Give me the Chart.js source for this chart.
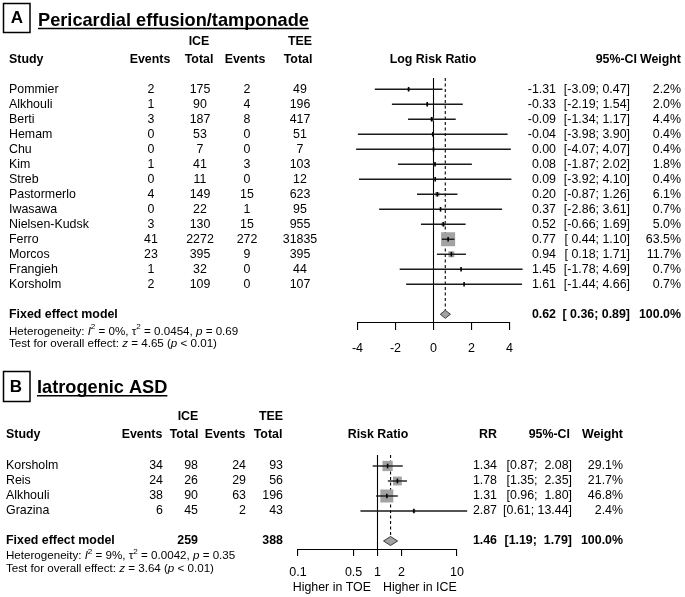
<!DOCTYPE html>
<html>
<head>
<meta charset="utf-8">
<script src="https://cdn.jsdelivr.net/npm/chart.js@4.4.0/dist/chart.umd.min.js"></script>
<style>
body { margin: 0; background: #fff; }
#wrap { position: relative; width: 685px; height: 597px; }
canvas { position: absolute; left: 0; }
</style>
</head>
<body>
<div id="wrap">
  <canvas id="chartA" width="685" height="365" style="top:0px"></canvas>
  <canvas id="chartB" width="685" height="232" style="top:365px"></canvas>
</div>
<script>
// ---- panel A: pericardial effusion / tamponade ----
var studiesA = ['Pommier', 'Alkhouli', 'Berti', 'Hemam', 'Chu', 'Kim', 'Streb', 'Pastormerlo', 'Iwasawa', 'Nielsen-Kudsk', 'Ferro', 'Morcos', 'Frangieh', 'Korsholm'];
var iceEventsA = [2, 1, 3, 0, 0, 1, 0, 4, 0, 3, 41, 23, 1, 2];
var iceTotalA = [175, 90, 187, 53, 7, 41, 11, 149, 22, 130, 2272, 395, 32, 109];
var teeEventsA = [2, 4, 8, 0, 0, 3, 0, 15, 1, 15, 272, 9, 0, 0];
var teeTotalA = [49, 196, 417, 51, 7, 103, 12, 623, 95, 955, 31835, 395, 44, 107];
var logRRA = [-1.31, -0.33, -0.09, -0.04, 0.00, 0.08, 0.09, 0.20, 0.37, 0.52, 0.77, 0.94, 1.45, 1.61];
var lowerA = [-3.09, -2.19, -1.34, -3.98, -4.07, -1.87, -3.92, -0.87, -2.86, -0.66, 0.44, 0.18, -1.78, -1.44];
var upperA = [0.47, 1.54, 1.17, 3.90, 4.07, 2.02, 4.10, 1.26, 3.61, 1.69, 1.10, 1.71, 4.69, 4.66];
var weightA = [2.2, 2.0, 4.4, 0.4, 0.4, 1.8, 0.4, 6.1, 0.7, 5.0, 63.5, 11.7, 0.7, 0.7];
var fixedA = [0.62, 0.36, 0.89];          // estimate, lower, upper
var hetA = ['0%', '0.0454', '0.69'];      // I2, tau2, p
var testA = ['4.65', '< 0.01'];           // z, p
var ticksA = [-4, -2, 0, 2, 4];

// ---- panel B: iatrogenic ASD ----
var studiesB = ['Korsholm', 'Reis', 'Alkhouli', 'Grazina'];
var iceEventsB = [34, 24, 38, 6];
var iceTotalB = [98, 26, 90, 45];
var teeEventsB = [24, 29, 63, 2];
var teeTotalB = [93, 56, 196, 43];
var rrB = [1.34, 1.78, 1.31, 2.87];
var lowerB = [0.87, 1.35, 0.96, 0.61];
var upperB = [2.08, 2.35, 1.80, 13.44];
var weightB = [29.1, 21.7, 46.8, 2.4];
var fixedB = [1.46, 1.19, 1.79];
var totalsB = [259, 388];
var hetB = ['9%', '0.0042', '0.35'];
var testB = ['3.64', '< 0.01'];
var ticksB = [0.1, 0.5, 1, 2, 10];
var tickLabelsB = ['0.1', '0.5', '1', '2', '10'];

var FONT = '"Liberation Sans", Arial, sans-serif';
var BASE = 12.4;

function font(size, bold, italic) {
    return (italic ? 'italic ' : '') + (bold ? 'bold ' : '') + size + 'px ' + FONT;
}

function txt(ctx, s, x, y, align, bold, size) {
    ctx.font = font(size || BASE, bold);
    ctx.textAlign = align || 'left';
    ctx.textBaseline = 'middle';
    ctx.fillStyle = '#000';
    ctx.fillText(s, x, y);
}

function richTxt(ctx, runs, x, y, size) {
    ctx.textAlign = 'left';
    ctx.textBaseline = 'middle';
    ctx.fillStyle = '#000';
    runs.forEach(r => {
        let sz = r.sup ? size * 0.7 : size;
        ctx.font = font(sz, false, r.it);
        ctx.fillText(r.t, x, r.sup ? y - size * 0.38 : y);
        x += ctx.measureText(r.t).width;
    });
}

function title(ctx, s, x, y) {
    ctx.font = font(18.2, true);
    ctx.textAlign = 'left';
    ctx.textBaseline = 'alphabetic';
    ctx.fillStyle = '#000';
    ctx.fillText(s, x, y);
    let w = ctx.measureText(s).width;
    ctx.beginPath();
    ctx.lineWidth = 1.4;
    ctx.strokeStyle = '#000';
    ctx.moveTo(x, y + 2.5);
    ctx.lineTo(x + w, y + 2.5);
    ctx.stroke();
}

function hetRuns(h) {
    return [{t: 'Heterogeneity: '}, {t: 'I', it: true}, {t: '2', sup: true}, {t: ' = ' + h[0] + ', \u03c4'},
            {t: '2', sup: true}, {t: ' = ' + h[1] + ', '}, {t: 'p', it: true}, {t: ' = ' + h[2]}];
}

function testRuns(t) {
    return [{t: 'Test for overall effect: '}, {t: 'z', it: true}, {t: ' = ' + t[0] + ' ('}, {t: 'p', it: true}, {t: ' ' + t[1] + ')'}];
}

// build the forest marks: squares, CI lines, estimate ticks, null line, dashed pooled line, diamond
function forestDatasets(est, lo, hi, w, maxSide, fixed, fixedRow, yMin, yMax, nullVal, halfH) {
    let ds = [];
    let maxW = Math.max.apply(null, w);
    ds.push({
        data: est.map((v, i) => ({x: v, y: i})),
        pointStyle: 'rect',
        pointRadius: w.map(v => maxSide * Math.sqrt(v / maxW) / Math.SQRT2),
        backgroundColor: '#a2a2a2',
        borderWidth: 0,
        clip: false,
        order: 3
    });
    for (let i = 0; i < est.length; i++) {
        ds.push({
            data: [{x: lo[i], y: i}, {x: hi[i], y: i}],
            showLine: true,
            borderColor: '#1a1a1a',
            borderWidth: 1.4,
            pointRadius: 0,
            clip: false,
            order: 1
        });
    }
    ds.push({
        data: est.map((v, i) => ({x: v, y: i})),
        pointStyle: 'line',
        rotation: 90,
        pointRadius: 2.3,
        borderColor: '#000',
        pointBorderWidth: 1.6,
        clip: false,
        order: 0
    });
    ds.push({
        data: [{x: nullVal, y: yMin}, {x: nullVal, y: yMax}],
        showLine: true, borderColor: '#000', borderWidth: 1.1, pointRadius: 0, order: 4
    });
    ds.push({
        data: [{x: fixed[0], y: yMin}, {x: fixed[0], y: fixedRow - halfH}],
        showLine: true, borderColor: '#000', borderWidth: 1.1, borderDash: [3, 2.5], pointRadius: 0, order: 4
    });
    ds.push({
        data: [{x: fixed[1], y: fixedRow}, {x: fixed[0], y: fixedRow - halfH}, {x: fixed[2], y: fixedRow},
               {x: fixed[0], y: fixedRow + halfH}, {x: fixed[1], y: fixedRow}],
        showLine: true, fill: 'shape', backgroundColor: '#a2a2a2', borderColor: '#3a3a3a',
        borderWidth: 1, pointRadius: 0, tension: 0, order: 2
    });
    return ds;
}

function fmtCI(v) { return (v >= 0 ? ' ' : '') + v.toFixed(2); }
function padCI(v, n) { let s = v.toFixed(2); while (s.length < n) s = ' ' + s; return s; }

var tableA = {
    id: 'tableA',
    afterDraw(chart) {
        const ctx = chart.ctx, ys = chart.scales.y;
        const Y = r => ys.getPixelForValue(r);
        ctx.save();
        ctx.lineWidth = 1.5;
        ctx.strokeStyle = '#000';
        ctx.strokeRect(3.5, 3.5, 26.5, 29);
        txt(ctx, 'A', 17, 18.5, 'center', true, 17);
        title(ctx, 'Pericardial effusion/tamponade', 38, 26);

        txt(ctx, 'ICE', 199, Y(-3.2), 'center', true);
        txt(ctx, 'TEE', 300, Y(-3.2), 'center', true);
        txt(ctx, 'Study', 9, Y(-2), 'left', true);
        txt(ctx, 'Events', 150, Y(-2), 'center', true);
        txt(ctx, 'Total', 199, Y(-2), 'center', true);
        txt(ctx, 'Events', 245, Y(-2), 'center', true);
        txt(ctx, 'Total', 298, Y(-2), 'center', true);
        txt(ctx, 'Log Risk Ratio', 433, Y(-2), 'center', true);
        txt(ctx, '95%-CI', 637, Y(-2), 'right', true);
        txt(ctx, 'Weight', 681, Y(-2), 'right', true);

        for (let i = 0; i < studiesA.length; i++) {
            let y = Y(i);
            txt(ctx, studiesA[i], 9, y, 'left');
            txt(ctx, String(iceEventsA[i]), 151, y, 'center');
            txt(ctx, String(iceTotalA[i]), 200, y, 'center');
            txt(ctx, String(teeEventsA[i]), 247, y, 'center');
            txt(ctx, String(teeTotalA[i]), 300, y, 'center');
            txt(ctx, logRRA[i].toFixed(2), 556, y, 'right');
            txt(ctx, '[' + fmtCI(lowerA[i]) + '; ' + upperA[i].toFixed(2) + ']', 630, y, 'right');
            txt(ctx, weightA[i].toFixed(1) + '%', 681, y, 'right');
        }
        let yf = Y(15);
        txt(ctx, 'Fixed effect model', 9, yf, 'left', true);
        txt(ctx, fixedA[0].toFixed(2), 556, yf, 'right', true);
        txt(ctx, '[' + fmtCI(fixedA[1]) + '; ' + fixedA[2].toFixed(2) + ']', 630, yf, 'right', true);
        txt(ctx, '100.0%', 681, yf, 'right', true);
        richTxt(ctx, hetRuns(hetA), 9, Y(16.15), 11.6);
        richTxt(ctx, testRuns(testA), 9, Y(16.95), 11.6);
        ctx.restore();
    }
};

var tableB = {
    id: 'tableB',
    afterDraw(chart) {
        const ctx = chart.ctx, ys = chart.scales.y;
        const Y = r => ys.getPixelForValue(r);
        ctx.save();
        ctx.lineWidth = 1.5;
        ctx.strokeStyle = '#000';
        ctx.strokeRect(3.5, 6.5, 26.5, 30);
        txt(ctx, 'B', 16, 22.5, 'center', true, 17);
        title(ctx, 'Iatrogenic ASD', 37, 28.3);

        txt(ctx, 'ICE', 188, Y(-3.3), 'center', true);
        txt(ctx, 'TEE', 271, Y(-3.3), 'center', true);
        txt(ctx, 'Study', 6, Y(-2.07), 'left', true);
        txt(ctx, 'Events', 142, Y(-2.07), 'center', true);
        txt(ctx, 'Total', 184, Y(-2.07), 'center', true);
        txt(ctx, 'Events', 225, Y(-2.07), 'center', true);
        txt(ctx, 'Total', 268, Y(-2.07), 'center', true);
        txt(ctx, 'Risk Ratio', 378, Y(-2.07), 'center', true);
        txt(ctx, 'RR', 488, Y(-2.07), 'center', true);
        txt(ctx, '95%-CI', 570, Y(-2.07), 'right', true);
        txt(ctx, 'Weight', 623, Y(-2.07), 'right', true);

        for (let i = 0; i < studiesB.length; i++) {
            let y = Y(i);
            txt(ctx, studiesB[i], 6, y, 'left');
            txt(ctx, String(iceEventsB[i]), 163, y, 'right');
            txt(ctx, String(iceTotalB[i]), 198, y, 'right');
            txt(ctx, String(teeEventsB[i]), 246, y, 'right');
            txt(ctx, String(teeTotalB[i]), 283, y, 'right');
            txt(ctx, rrB[i].toFixed(2), 497, y, 'right');
            txt(ctx, '[' + lowerB[i].toFixed(2) + '; ' + padCI(upperB[i], 5) + ']', 572, y, 'right');
            txt(ctx, weightB[i].toFixed(1) + '%', 623, y, 'right');
        }
        let yf = Y(5);
        txt(ctx, 'Fixed effect model', 6, yf, 'left', true);
        txt(ctx, String(totalsB[0]), 198, yf, 'right', true);
        txt(ctx, String(totalsB[1]), 283, yf, 'right', true);
        txt(ctx, fixedB[0].toFixed(2), 497, yf, 'right', true);
        txt(ctx, '[' + fixedB[1].toFixed(2) + '; ' + padCI(fixedB[2], 5) + ']', 572, yf, 'right', true);
        txt(ctx, '100.0%', 623, yf, 'right', true);
        richTxt(ctx, hetRuns(hetB), 6, Y(6.0), 11.6);
        richTxt(ctx, testRuns(testB), 6, Y(6.87), 11.6);
        txt(ctx, 'Higher in TOE', 371, Y(8.1), 'right');
        txt(ctx, 'Higher in ICE', 383, Y(8.1), 'left');
        ctx.restore();
    }
};

function xAxis(extra) {
    return Object.assign({
        grid: {display: true, drawOnChartArea: false, drawTicks: true, tickLength: 7, color: '#000', lineWidth: 1.1},
        border: {display: true, color: '#000', width: 1.1},
        ticks: {color: '#000', font: {size: 12.5, family: FONT}, padding: 11, autoSkip: false, maxRotation: 0}
    }, extra);
}

// chart A
var yMinA = -0.75, yMaxA = 15.583;
new Chart(document.getElementById('chartA').getContext('2d'), {
    type: 'scatter',
    data: {datasets: forestDatasets(logRRA, lowerA, upperA, weightA, 14, fixedA, 15, yMinA, yMaxA, 0, 0.27)},
    options: {
        responsive: false,
        animation: false,
        layout: {padding: {left: 357.5, right: 175.5, top: 78, bottom: 12}},
        plugins: {legend: {display: false}, tooltip: {enabled: false}},
        scales: {
            x: xAxis({
                type: 'linear', min: -4, max: 4,
                afterBuildTicks: s => { s.ticks = ticksA.map(v => ({value: v})); },
                afterFit: s => { s.height = 30; }
            }),
            y: {type: 'linear', display: false, reverse: true, min: yMinA, max: yMaxA}
        }
    },
    plugins: [tableA]
});

// chart B
var yMinB = -0.733, yMaxB = 5.6;
var optsB = xAxis({
    type: 'logarithmic', min: 0.1, max: 10,
    afterBuildTicks: s => { s.ticks = ticksB.map(v => ({value: v})); },
    afterFit: s => { s.height = 45; }
});
optsB.grid = Object.assign({}, optsB.grid, {tickLength: 6});
optsB.ticks = Object.assign({}, optsB.ticks, {padding: 9, callback: (v, i) => tickLabelsB[i]});
new Chart(document.getElementById('chartB').getContext('2d'), {
    type: 'scatter',
    data: {datasets: forestDatasets(rrB, lowerB, upperB, weightB, 13, fixedB, 5, yMinB, yMaxB, 1, 0.3)},
    options: {
        responsive: false,
        animation: false,
        layout: {padding: {left: 298, right: 228, top: 90, bottom: 2}},
        plugins: {legend: {display: false}, tooltip: {enabled: false}},
        scales: {
            x: optsB,
            y: {type: 'linear', display: false, reverse: true, min: yMinB, max: yMaxB}
        }
    },
    plugins: [tableB]
});
</script>
</body>
</html>
